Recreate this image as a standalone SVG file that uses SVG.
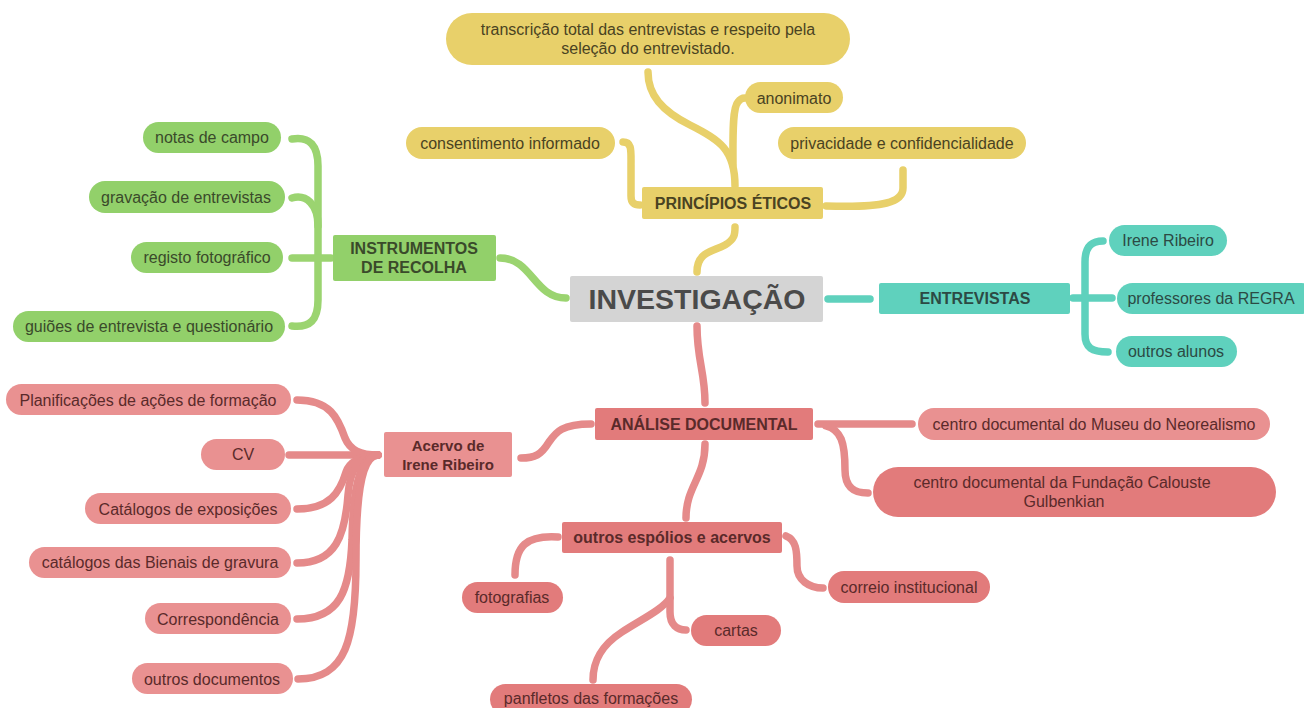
<svg xmlns="http://www.w3.org/2000/svg" width="1304" height="708" viewBox="0 0 1304 708">
<style>
text{font-family:"Liberation Sans",Arial,sans-serif;text-anchor:middle;dominant-baseline:central;font-size:16px}
.b{font-weight:bold}
.y{fill:#e8d06a}.yt{fill:#4a4322}
.g{fill:#92d06a}.gt{fill:#3a4a2a}
.t{fill:#5fd1bd}.tt{fill:#2c4a44}
.r{fill:#e27b7b}.rl{fill:#e99191}.rt{fill:#5a2a2a}
.c{fill:none;stroke-width:7.5;stroke-linecap:round;stroke-linejoin:round}
.cy{stroke:#e8d06a}.cg{stroke:#9bd470}.ct{stroke:#5fd1bd}.cr{stroke:#e58a8a}
</style>
<rect width="1304" height="708" fill="#ffffff"/>
<g id="connectors">
<path class="c cy" d="M697,272 C697,252 712,252 725,245 C735,239 735,234 735,227"/>
<path class="c cy" d="M735,186 C735,150 720,140 690,125 C662,111 648,95 648,72"/>
<path class="c cy" d="M733,165 C733,140 732,108 738,102 C740,99 742,98 745,98"/>
<path class="c cy" d="M623,142 C632,142 631,150 631,165 L631,196 C631,203 634,205 640,205"/>
<path class="c cy" d="M826,206 C885,208 903,202 903,188 L903,170"/>
<path class="c cg" d="M292,139 C310,136 318,146 318,166 L318,300 C318,320 310,328 292,326"/>
<path class="c cg" d="M292,198 C306,194 318,204 318,226"/>
<path class="c cg" d="M292,258 L331,258"/>
<path class="c cg" d="M500,258 C532,258 534,298 566,298"/>
<path class="c ct" d="M828,299 L870,299"/>
<path class="c ct" d="M1073,298 L1112,298"/>
<path class="c ct" d="M1103,241 C1090,241 1085,248 1085,262 L1085,334 C1085,348 1092,352 1108,352"/>
<path class="c cr" d="M697,326 C697,360 705,372 705,403"/>
<path class="c cr" d="M591,424 C562,424 556,432 549,442 C541,455 535,458 521,458"/>
<path class="c cr" d="M818,424 L912,424"/>
<path class="c cr" d="M826,426 C841,430 845,442 845,470 C845,488 855,493 868,493"/>
<path class="c cr" d="M705,444 C705,478 686,486 686,518"/>
<path class="c cr" d="M558,537 C526,535 515,546 515,575"/>
<path class="c cr" d="M786,536 C796,540 797,550 797,566 C797,580 809,588 823,588"/>
<path class="c cr" d="M670,560 L670,612 C670,625 677,630 686,630"/>
<path class="c cr" d="M670,598 C662,610 640,620 622,632 C602,645 593,660 593,680"/>
<path class="c cr" d="M297,400 C330,400 338,418 345,438 C350,450 360,455 378,455"/>
<path class="c cr" d="M289,455 L378,455"/>
<path class="c cr" d="M297,509 C330,509 340,492 346,472 C350,461 360,456 378,455"/>
<path class="c cr" d="M297,563 C336,563 345,535 348,495 C350,468 360,456 378,455"/>
<path class="c cr" d="M297,619 C340,619 350,590 352,540 C353,480 362,456 378,455"/>
<path class="c cr" d="M298,679 C346,679 356,640 356,560 C356,485 364,456 378,455"/>
</g>
<g id="n-investigacao"><rect x="570" y="276" width="253" height="46" rx="2" fill="#d4d4d4"/><text x="697" y="299" class="b" style="font-size:28.5px;fill:#4a4a4a">INVESTIGAÇÃO</text></g>
<g id="n-principios"><rect class="y" x="642" y="187" width="181" height="32" rx="2"/><text class="b yt" x="733" y="203">PRINCÍPIOS ÉTICOS</text></g>
<g id="n-transcricao"><rect class="y" x="446" y="13" width="404" height="52" rx="26"/><text class="yt" x="648" y="29">transcrição total das entrevistas e respeito pela</text><text class="yt" x="648" y="48">seleção do entrevistado.</text></g>
<g id="n-anonimato"><rect class="y" x="745" y="82" width="98" height="31" rx="15.5"/><text class="yt" x="794" y="98">anonimato</text></g>
<g id="n-consentimento"><rect class="y" x="406" y="127" width="209" height="32" rx="16"/><text class="yt" x="510" y="143">consentimento informado</text></g>
<g id="n-privacidade"><rect class="y" x="778" y="127" width="248" height="32" rx="16"/><text class="yt" x="902" y="143">privacidade e confidencialidade</text></g>
<g id="n-instrumentos"><rect class="g" x="333" y="235" width="163" height="46" rx="2"/><text class="b gt" x="414" y="248">INSTRUMENTOS</text><text class="b gt" x="414" y="267">DE RECOLHA</text></g>
<g id="n-notas"><rect class="g" x="143" y="122" width="138" height="31" rx="15.5"/><text class="gt" x="212" y="137">notas de campo</text></g>
<g id="n-gravacao"><rect class="g" x="89" y="181" width="196" height="32" rx="16"/><text class="gt" x="186" y="197">gravação de entrevistas</text></g>
<g id="n-registo"><rect class="g" x="131" y="242" width="152" height="31" rx="15.5"/><text class="gt" x="207" y="257">registo fotográfico</text></g>
<g id="n-guioes"><rect class="g" x="13" y="311" width="272" height="31" rx="15.5"/><text class="gt" x="149" y="326">guiões de entrevista e questionário</text></g>
<g id="n-entrevistas"><rect class="t" x="879" y="283" width="191" height="31" rx="2"/><text class="b tt" x="975" y="298">ENTREVISTAS</text></g>
<g id="n-irene"><rect class="t" x="1109" y="225" width="118" height="31" rx="15.5"/><text class="tt" x="1168" y="240">Irene Ribeiro</text></g>
<g id="n-professores"><rect class="t" x="1117" y="283" width="200" height="31" rx="15.5"/><text class="tt" x="1211" y="298">professores da REGRA</text></g>
<g id="n-outrosalunos"><rect class="t" x="1116" y="336" width="121" height="31" rx="15.5"/><text class="tt" x="1176" y="351">outros alunos</text></g>
<g id="n-analise"><rect class="r" x="595" y="408" width="218" height="32" rx="2"/><text class="b rt" x="704" y="424">ANÁLISE DOCUMENTAL</text></g>
<g id="n-museu"><rect class="rl" x="918" y="408" width="352" height="32" rx="16"/><text class="rt" x="1094" y="424">centro documental do Museu do Neorealismo</text></g>
<g id="n-gulbenkian"><rect class="r" x="873" y="467" width="403" height="50" rx="25"/><text class="rt" x="1062" y="482">centro documental da Fundação Calouste</text><text class="rt" x="1064" y="501">Gulbenkian</text></g>
<g id="n-acervo"><rect class="rl" x="384" y="432" width="128" height="45" rx="2"/><text class="b rt" x="448" y="445" style="font-size:15px">Acervo de</text><text class="b rt" x="448" y="464" style="font-size:15px">Irene Ribeiro</text></g>
<g id="n-planificacoes"><rect class="rl" x="6" y="384" width="285" height="31" rx="15.5"/><text class="rt" x="148" y="400">Planificações de ações de formação</text></g>
<g id="n-cv"><rect class="rl" x="201" y="439" width="84" height="31" rx="15.5"/><text class="rt" x="243" y="454">CV</text></g>
<g id="n-catalogos"><rect class="rl" x="85" y="493" width="206" height="31" rx="15.5"/><text class="rt" x="188" y="509">Catálogos de exposições</text></g>
<g id="n-bienais"><rect class="rl" x="29" y="547" width="262" height="31" rx="15.5"/><text class="rt" x="160" y="562">catálogos das Bienais de gravura</text></g>
<g id="n-correspondencia"><rect class="rl" x="145" y="603" width="146" height="31" rx="15.5"/><text class="rt" x="218" y="619">Correspondência</text></g>
<g id="n-outrosdoc"><rect class="rl" x="132" y="663" width="161" height="31" rx="15.5"/><text class="rt" x="212" y="679">outros documentos</text></g>
<g id="n-outrosespolios"><rect class="r" x="562" y="522" width="220" height="31" rx="2"/><text class="b rt" x="672" y="537">outros espólios e acervos</text></g>
<g id="n-fotografias"><rect class="r" x="462" y="582" width="101" height="31" rx="15.5"/><text class="rt" x="512" y="597">fotografias</text></g>
<g id="n-cartas"><rect class="r" x="691" y="615" width="90" height="31" rx="15.5"/><text class="rt" x="736" y="630">cartas</text></g>
<g id="n-correio"><rect class="r" x="828" y="571" width="162" height="32" rx="16"/><text class="rt" x="909" y="587">correio institucional</text></g>
<g id="n-panfletos"><rect class="r" x="490" y="684" width="202" height="31" rx="15.5"/><text class="rt" x="591" y="698">panfletos das formações</text></g>
</svg>
